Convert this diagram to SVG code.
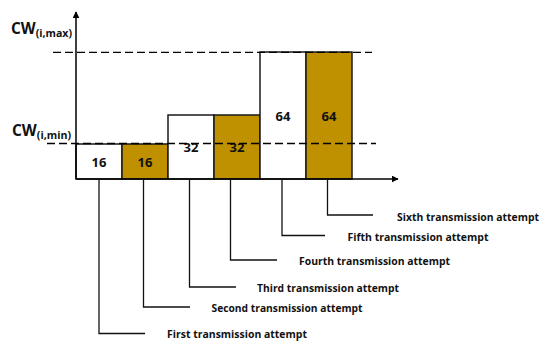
<svg xmlns="http://www.w3.org/2000/svg" width="550" height="352" viewBox="0 0 550 352">
<style>
.ax{stroke:#000;stroke-width:1.5;fill:none}
.dash{stroke:#000;stroke-width:1.3;stroke-dasharray:8 4;fill:none}
.bar{stroke:#1a1a1a;stroke-width:1.5}
.w{fill:#fff}
.g{fill:#BF9000}
.num{font-family:"Open Sans",Lato,sans-serif;font-weight:bold;font-size:13px;fill:#111;text-anchor:middle}
.lbl{font-family:"Open Sans",Lato,sans-serif;font-weight:bold;font-size:11px;fill:#111}
.cw{font-family:"Open Sans",Lato,sans-serif;font-weight:bold;font-size:16px;fill:#111}
.sub{font-size:11px}
.ld{stroke:#111;stroke-width:1.3;fill:none}
</style>
<defs>
<marker id="arr" viewBox="0 0 10 10" refX="9" refY="5" markerWidth="7" markerHeight="7" markerUnits="userSpaceOnUse" orient="auto">
<path d="M0,0 L10,5 L0,10 z" fill="#000"/>
</marker>
</defs>
<g id="bars">
<g id="bar1"><rect class="bar w" x="76" y="144" width="46" height="35"/><text class="num" x="99" y="166.5">16</text></g>
<g id="bar2"><rect class="bar g" x="122" y="144" width="46" height="35"/><text class="num" x="145" y="166.5">16</text></g>
<g id="bar3"><rect class="bar w" x="168" y="115" width="46" height="64"/><text class="num" x="191" y="152">32</text></g>
<g id="bar4"><rect class="bar g" x="214" y="115" width="46" height="64"/><text class="num" x="237" y="152">32</text></g>
<g id="bar5"><rect class="bar w" x="260" y="52" width="46" height="127"/><text class="num" x="283" y="121">64</text></g>
<g id="bar6"><rect class="bar g" x="306" y="52" width="46" height="127"/><text class="num" x="329" y="121">64</text></g>
</g>
<g id="axes">
<line class="ax" x1="76" y1="179" x2="76" y2="12" marker-end="url(#arr)"/>
<line class="ax" x1="76" y1="179" x2="398" y2="179" marker-end="url(#arr)"/>
<line class="dash" x1="53" y1="52.3" x2="372" y2="52.3"/>
<line class="dash" x1="47" y1="143.5" x2="376" y2="143.5"/>
</g>
<g id="ylabels">
<text class="cw" x="11" y="34" textLength="61" lengthAdjust="spacingAndGlyphs">CW<tspan class="sub" dy="3">(i,max)</tspan></text>
<text class="cw" x="12" y="136" textLength="59" lengthAdjust="spacingAndGlyphs">CW<tspan class="sub" dy="3">(i,min)</tspan></text>
</g>
<g id="connectors">
<polyline class="ld" points="99,179 99,333.5 145,333.5"/>
<polyline class="ld" points="143.5,179 143.5,307 190,307"/>
<polyline class="ld" points="189.5,179 189.5,287 236,287"/>
<polyline class="ld" points="230.5,179 230.5,260 277,260"/>
<polyline class="ld" points="282,179 282,235.5 325,235.5"/>
<polyline class="ld" points="327.5,179 327.5,215 373,215"/>
</g>
<g id="labels">
<text class="lbl" x="167" y="337.5" textLength="140" lengthAdjust="spacingAndGlyphs">First transmission attempt</text>
<text class="lbl" x="211.5" y="311.5" textLength="151" lengthAdjust="spacingAndGlyphs">Second transmission attempt</text>
<text class="lbl" x="257" y="291.5" textLength="142" lengthAdjust="spacingAndGlyphs">Third transmission attempt</text>
<text class="lbl" x="299" y="264.5" textLength="151" lengthAdjust="spacingAndGlyphs">Fourth transmission attempt</text>
<text class="lbl" x="347.5" y="241" textLength="141" lengthAdjust="spacingAndGlyphs">Fifth transmission attempt</text>
<text class="lbl" x="397" y="220.5" textLength="142" lengthAdjust="spacingAndGlyphs">Sixth transmission attempt</text>
</g>
</svg>
